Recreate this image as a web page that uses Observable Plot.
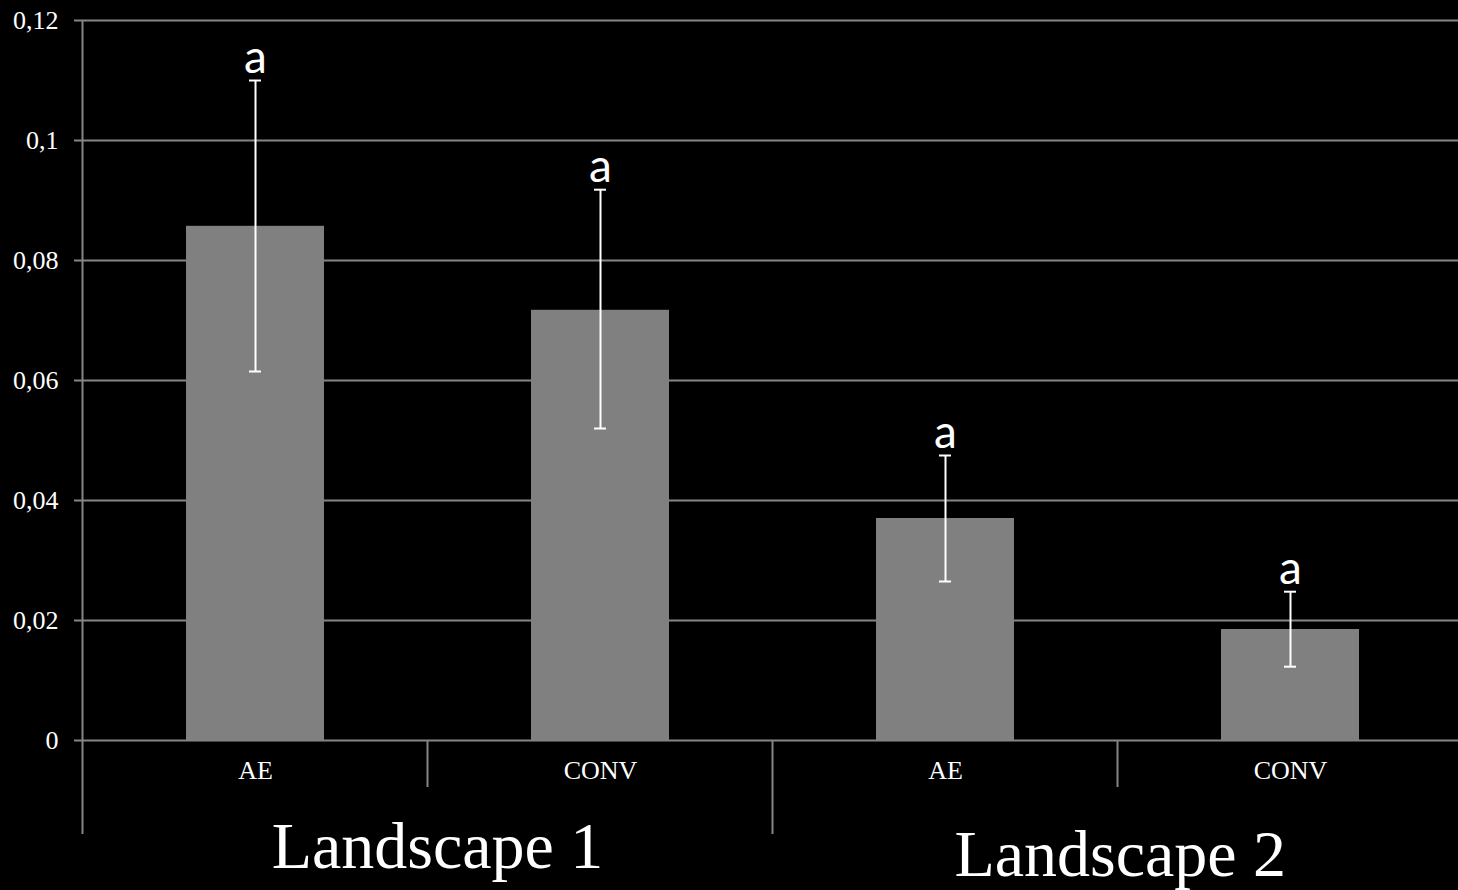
<!DOCTYPE html>
<html>
<head>
<meta charset="utf-8">
<script src="https://cdn.jsdelivr.net/npm/d3@7"></script>
<script src="https://cdn.jsdelivr.net/npm/@observablehq/plot@0.6"></script>
<style>
  html, body { margin: 0; padding: 0; background: #000; }
  #chart { width: 1458px; height: 890px; overflow: hidden; }
</style>
</head>
<body>
<div id="chart"></div>
<script>
const landscapes = ["Landscape 1", "Landscape 1", "Landscape 2", "Landscape 2"];
const treatments = ["AE", "CONV", "AE", "CONV"];
const means    = [0.0857, 0.0717, 0.0370, 0.0185];
const errLow   = [0.0615, 0.0520, 0.0265, 0.0123];
const errHigh  = [0.1100, 0.0918, 0.0475, 0.0248];
const letters  = ["a", "a", "a", "a"];
const yTicks   = [0, 0.02, 0.04, 0.06, 0.08, 0.1, 0.12];
const groups   = ["Landscape 1", "Landscape 2"];

const data = means.map((m, i) => ({
  key: landscapes[i] + "|" + treatments[i],
  landscape: landscapes[i],
  treatment: treatments[i],
  mean: m, lo: errLow[i], hi: errHigh[i], letter: letters[i]
}));

const GRAY = "#858585";
const W = 1458, H = 890, ML = 82, MT = 20, MB = 150;

const plot = Plot.plot({
  width: W, height: H,
  marginLeft: ML, marginRight: 0, marginTop: MT, marginBottom: MB,
  style: { background: "#000", color: "#fff", fontFamily: "'Liberation Serif', 'Times New Roman', serif" },
  x: { domain: data.map(d => d.key), range: [ML, W + 4], paddingInner: 0.6, paddingOuter: 0.3, axis: null },
  y: { domain: [0, 0.12], axis: null },
  marks: [
    Plot.gridY(yTicks, { stroke: GRAY, strokeOpacity: 1, strokeWidth: 2 }),
    Plot.axisY(yTicks, { tickSize: 8, tickPadding: 16, stroke: GRAY, strokeWidth: 2, fill: "#fff",
      fontSize: 26, tickFormat: d => String(d).replace(".", ","), label: null }),
    Plot.barY(data, { x: "key", y: "mean", fill: "#808080" }),
    Plot.ruleX(data, { x: "key", y1: "lo", y2: "hi", stroke: "#fff", strokeWidth: 2 }),
    Plot.tickY(data, { x: "key", y: "hi", stroke: "#fff", strokeWidth: 2, inset: 63 }),
    Plot.tickY(data, { x: "key", y: "lo", stroke: "#fff", strokeWidth: 2, inset: 63 }),
    Plot.text(data, { x: "key", y: "hi", text: "letter", dy: -8, lineAnchor: "bottom", fill: "#fff",
      fontSize: 46, fontFamily: "Lato, 'Open Sans', sans-serif" }),
    Plot.axisX(data.map(d => d.key), { tickSize: 0, tickPadding: 20, fill: "#fff", fontSize: 26,
      tickFormat: k => k.split("|")[1], label: null })
  ]
});

document.getElementById("chart").appendChild(plot);

// Category separators, group labels and the extended axis line, positioned via the plot's x scale
const xs = plot.scale("x");
const step = xs.step, bw = xs.bandwidth;
const svg = d3.select(plot);
const y0 = H - MB;
const bounds = data.map(d => xs.apply(d.key) - (step - bw) / 2);
bounds.push(bounds[bounds.length - 1] + step);
const g = svg.append("g").attr("stroke", GRAY).attr("stroke-width", 2);
// y axis line
g.append("line").attr("x1", bounds[0]).attr("x2", bounds[0]).attr("y1", MT).attr("y2", y0 + 94);
// separators between categories
for (let i = 1; i < data.length; i++) {
  const groupBreak = data[i].landscape !== data[i - 1].landscape;
  g.append("line").attr("x1", bounds[i]).attr("x2", bounds[i])
    .attr("y1", y0).attr("y2", y0 + (groupBreak ? 94 : 47));
}
// group labels
groups.forEach((grp, gi) => {
  const idx = data.map((d, i) => d.landscape === grp ? i : -1).filter(i => i >= 0);
  const x0 = bounds[idx[0]], x1 = Math.min(bounds[idx[idx.length - 1] + 1], W);
  svg.append("text")
    .attr("x", (x0 + x1) / 2 + (gi === 0 ? 10 : 5))
    .attr("y", y0 + (gi === 0 ? 128 : 136))
    .attr("text-anchor", "middle")
    .attr("fill", "#fff")
    .attr("font-size", 66)
    .attr("font-family", "'Liberation Serif', 'Times New Roman', serif")
    .text(grp);
});
</script>
</body>
</html>
